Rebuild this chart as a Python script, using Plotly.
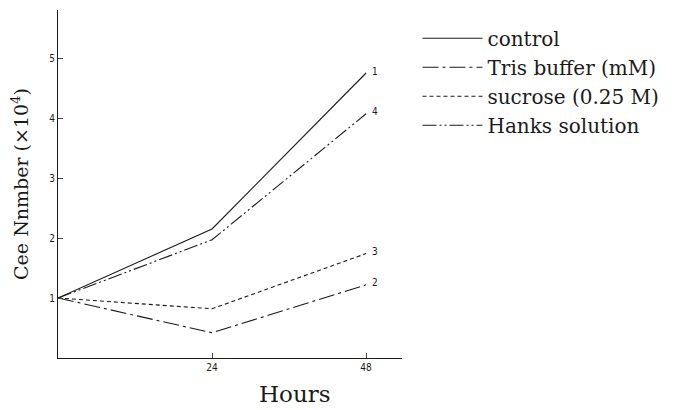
import plotly.graph_objects as go

hours = [0, 24, 48]
series_names = ["control", "Tris buffer (mM)", "sucrose (0.25 M)", "Hanks solution"]
series_ids = ["1", "2", "3", "4"]
control = [1.0, 2.15, 4.75]
tris = [1.0, 0.42, 1.22]
sucrose = [1.0, 0.82, 1.74]
hanks = [1.0, 1.97, 4.07]
y_ticks = [1, 2, 3, 4, 5]
x_ticks = [24, 48]

values = [control, tris, sucrose, hanks]
dashes = ["solid", "16px,4px,3px,4px", "4px,3px", "14px,3px,2px,3px,2px,3px"]

ink = "#1a1a1a"
fig = go.Figure()
for name, vals, dash, sid in zip(series_names, values, dashes, series_ids):
    fig.add_trace(go.Scatter(
        x=hours, y=vals, name=name, mode="lines",
        line=dict(color=ink, width=1.1, dash=dash),
        legendgroup=sid,
    ))
    fig.add_annotation(x=hours[-1], y=vals[-1], text=sid, showarrow=False,
                       xanchor="left", xshift=4, yshift=2,
                       font=dict(size=10, family="DejaVu Sans Condensed", color=ink))

# x-axis title placed off-centre, as in the reference
fig.add_annotation(x=0.69, y=-0.103, xref="paper", yref="paper", text="Hours",
                   showarrow=False, xanchor="center", yanchor="middle",
                   font=dict(size=23, family="DejaVu Serif", color=ink))

# page body has an 8px default margin, so the figure is 8px smaller
fig.update_layout(
    width=667, height=402,
    margin=dict(l=50, r=273, t=2, b=52),
    paper_bgcolor="white", plot_bgcolor="white",
    font=dict(family="DejaVu Serif", color=ink),
    showlegend=True,
    legend=dict(x=1.045, y=0.975, xanchor="left", yanchor="top",
                font=dict(size=20, family="DejaVu Serif", color=ink),
                tracegroupgap=0, itemwidth=60, bgcolor="rgba(0,0,0,0)"),
    xaxis=dict(range=[0, 53.6], tickvals=x_ticks, ticks="inside", ticklen=5,
               showline=True, linecolor=ink, linewidth=1, showgrid=False, zeroline=False,
               automargin=False,
               tickfont=dict(size=10, family="DejaVu Sans Condensed", color=ink)),
    yaxis=dict(range=[0, 5.8], tickvals=y_ticks, ticks="inside", ticklen=5,
               showline=True, linecolor=ink, linewidth=1, showgrid=False, zeroline=False,
               automargin=False,
               tickfont=dict(size=10, family="DejaVu Sans Condensed", color=ink),
               title=dict(text="Cee Nnmber (×10<sup>4</sup>)", font=dict(size=19, family="DejaVu Serif"), standoff=15)),
)

fig.write_html("out.html")
